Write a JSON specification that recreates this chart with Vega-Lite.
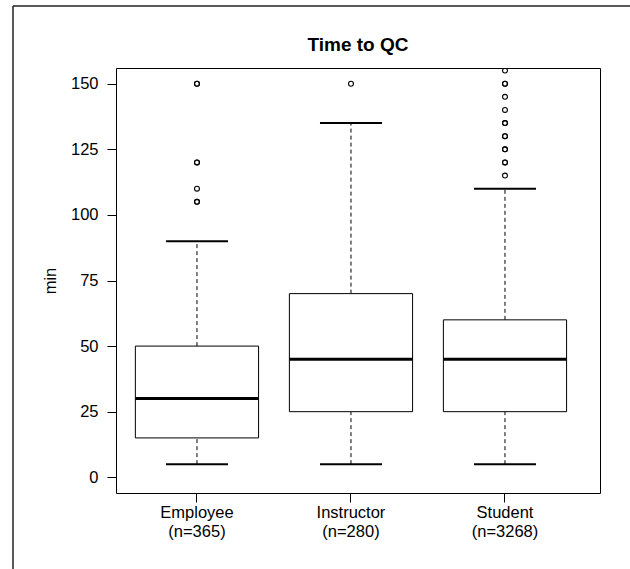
{
  "$schema": "https://vega.github.io/schema/vega-lite/v6.json",
  "width": 484,
  "height": 425,
  "autosize": {"type": "none"},
  "padding": {"left": 116, "top": 68, "right": 30, "bottom": 76},
  "background": "white",
  "title": {"text": "Time to QC", "fontSize": 19, "fontWeight": "bold", "font": "Liberation Sans", "anchor": "middle", "offset": 0, "dy": 65, "baseline": "alphabetic", "color": "black"},
  "config": {"font": "Liberation Sans", "view": {"stroke": "black", "strokeWidth": 1}},
  "datasets": {
    "stats": [
      {"group": "Employee", "lo": 5, "q1": 15, "med": 30, "q3": 50, "hi": 90},
      {"group": "Instructor", "lo": 5, "q1": 25, "med": 45, "q3": 70, "hi": 135},
      {"group": "Student", "lo": 5, "q1": 25, "med": 45, "q3": 60, "hi": 110}
    ],
    "outliers": [
      {"group": "Employee", "value": 150}, {"group": "Employee", "value": 150},
      {"group": "Employee", "value": 120}, {"group": "Employee", "value": 120},
      {"group": "Employee", "value": 110},
      {"group": "Employee", "value": 105}, {"group": "Employee", "value": 105},
      {"group": "Instructor", "value": 150},
      {"group": "Student", "value": 155},
      {"group": "Student", "value": 150}, {"group": "Student", "value": 150},
      {"group": "Student", "value": 145},
      {"group": "Student", "value": 140},
      {"group": "Student", "value": 135}, {"group": "Student", "value": 135},
      {"group": "Student", "value": 130}, {"group": "Student", "value": 130},
      {"group": "Student", "value": 125}, {"group": "Student", "value": 125},
      {"group": "Student", "value": 120}, {"group": "Student", "value": 120},
      {"group": "Student", "value": 115}
    ]
  },
  "resolve": {"scale": {"x": "independent"}},
  "layer": [
    {
      "data": {"values": [{}]},
      "layer": [
        {
          "mark": {"type": "rule", "color": "#222", "strokeWidth": 1.5, "clip": false},
          "encoding": {
            "x": {"datum": -0.2128, "type": "quantitative", "scale": {"domain": [0, 1], "nice": false, "zero": false}, "axis": null},
            "y": {"datum": 179.6, "type": "quantitative", "scale": {"domain": [-6, 156], "nice": false, "zero": false}},
            "y2": {"datum": -35}
          }
        },
        {
          "mark": {"type": "rule", "color": "#222", "strokeWidth": 1.5, "clip": false},
          "encoding": {
            "x": {"datum": -0.2128, "type": "quantitative", "scale": {"domain": [0, 1], "nice": false, "zero": false}, "axis": null},
            "x2": {"datum": 1.07},
            "y": {"datum": 179.6, "type": "quantitative", "scale": {"domain": [-6, 156], "nice": false, "zero": false}}
          }
        }
      ]
    },
    {
      "encoding": {
        "x": {
          "field": "group",
          "type": "nominal",
          "scale": {"type": "band", "domain": ["Employee", "Instructor", "Student"], "paddingInner": 0.2, "paddingOuter": 0.1714, "align": 0.367},
          "axis": {
            "title": null,
            "domain": false,
            "grid": false,
            "tickSize": 9,
            "tickColor": "black",
            "labelAngle": 0,
            "labelFontSize": 16.5,
            "labelColor": "black",
            "labelPadding": 2,
            "labelLineHeight": 19,
            "labelExpr": "datum.value == 'Employee' ? ['Employee', '(n=365)'] : datum.value == 'Instructor' ? ['Instructor', '(n=280)'] : ['Student', '(n=3268)']"
          }
        }
      },
      "layer": [
        {
          "data": {"name": "stats"},
          "mark": {"type": "rule", "color": "black", "strokeWidth": 1, "strokeDash": [4, 3]},
          "encoding": {
            "y": {"field": "q3", "type": "quantitative", "scale": {"domain": [-6, 156], "nice": false, "zero": false},
              "axis": {"values": [0, 25, 50, 75, 100, 125, 150], "title": "min", "domain": false, "grid": false, "tickSize": 9, "tickColor": "black", "labelFontSize": 16.5, "labelColor": "black", "labelPadding": 9, "titleFontSize": 16.5, "titleFontWeight": "normal", "titleColor": "black", "titleX": -66, "titleY": 212.5, "titleAngle": -90, "titleAlign": "center", "titleBaseline": "middle"}},
            "y2": {"field": "hi"}
          }
        },
        {
          "data": {"name": "stats"},
          "mark": {"type": "rule", "color": "black", "strokeWidth": 1, "strokeDash": [4, 3]},
          "encoding": {
            "y": {"field": "lo", "type": "quantitative"},
            "y2": {"field": "q1"}
          }
        },
        {
          "data": {"name": "stats"},
          "mark": {"type": "rect", "fill": "white", "stroke": "black", "strokeWidth": 1},
          "encoding": {
            "y": {"field": "q1", "type": "quantitative"},
            "y2": {"field": "q3"}
          }
        },
        {
          "data": {"name": "stats"},
          "mark": {"type": "tick", "color": "black", "size": 123, "thickness": 3, "opacity": 1},
          "encoding": {
            "y": {"field": "med", "type": "quantitative"}
          }
        },
        {
          "data": {"name": "stats"},
          "mark": {"type": "tick", "color": "black", "size": 62, "thickness": 2, "opacity": 1},
          "encoding": {
            "y": {"field": "hi", "type": "quantitative"}
          }
        },
        {
          "data": {"name": "stats"},
          "mark": {"type": "tick", "color": "black", "size": 62, "thickness": 2, "opacity": 1},
          "encoding": {
            "y": {"field": "lo", "type": "quantitative"}
          }
        },
        {
          "data": {"name": "outliers"},
          "mark": {"type": "point", "shape": "circle", "filled": false, "size": 24, "stroke": "black", "strokeWidth": 1.1, "opacity": 1, "clip": true},
          "encoding": {
            "y": {"field": "value", "type": "quantitative"}
          }
        }
      ]
    }
  ]
}
